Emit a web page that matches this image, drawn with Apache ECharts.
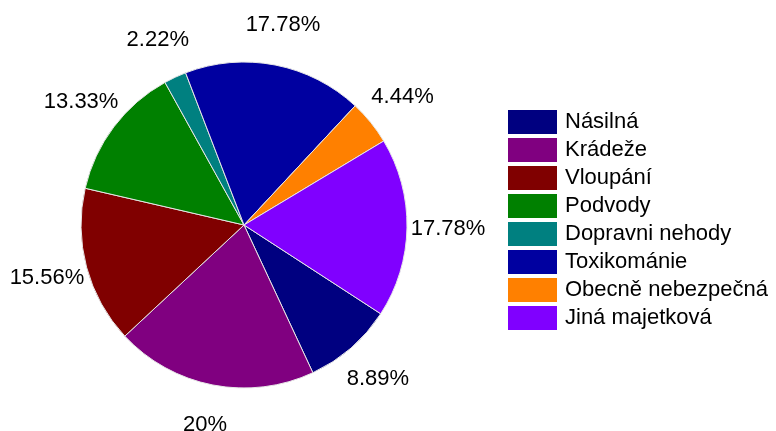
<!DOCTYPE html>
<html>
<head>
<meta charset="utf-8">
<script src="https://cdn.jsdelivr.net/npm/echarts@6/dist/echarts.min.js"></script>
<style>html,body{margin:0;padding:0;background:#fff;}#c{width:776px;height:431px;}</style>
</head>
<body>
<div id="c"></div>
<script>
const categories = ['Násilná', 'Krádeže', 'Vloupání', 'Podvody', 'Dopravni nehody', 'Toxikománie', 'Obecně nebezpečná', 'Jiná majetková'];
const values = [8.89, 20, 15.56, 13.33, 2.22, 17.78, 4.44, 17.78];
const colors = ['#000080', '#800080', '#800000', '#008000', '#008080', '#0000A0', '#FF8000', '#8000FF'];

const chart = echarts.init(document.getElementById('c'));
const font = '"Liberation Sans", Arial, sans-serif';
const mainData = categories.map((n, i) => ({ name: n, value: values[i], itemStyle: { color: colors[i] } }));
const labelData = categories.map((n, i) => ({ name: n, value: values[i] }));
chart.setOption({
  animation: false,
  legend: {
    orient: 'vertical',
    left: 503,
    top: 105,
    icon: 'rect',
    itemWidth: 49,
    itemHeight: 24,
    itemGap: 4,
    selectedMode: false,
    data: categories,
    itemStyle: { borderWidth: 0 },
    textStyle: { fontSize: 22, fontFamily: font, color: '#000', padding: [0, 0, 0, 3] }
  },
  series: [
    {
      type: 'pie',
      center: [244, 225],
      radius: [0, 163],
      startAngle: -33,
      clockwise: true,
      silent: true,
      label: { show: false },
      labelLine: { show: false },
      itemStyle: { borderColor: '#e6e6e6', borderWidth: 1 },
      data: mainData
    },
    {
      type: 'pie',
      center: [244, 225],
      radius: [164, 238],
      startAngle: -33,
      clockwise: true,
      silent: true,
      legendHoverLink: false,
      itemStyle: { color: 'rgba(0,0,0,0)', borderWidth: 0 },
      label: { show: true, position: 'inside', formatter: '{c}%', fontSize: 22, fontFamily: font, color: '#000' },
      labelLine: { show: false },
      data: labelData
    }
  ]
});
</script>
</body>
</html>
